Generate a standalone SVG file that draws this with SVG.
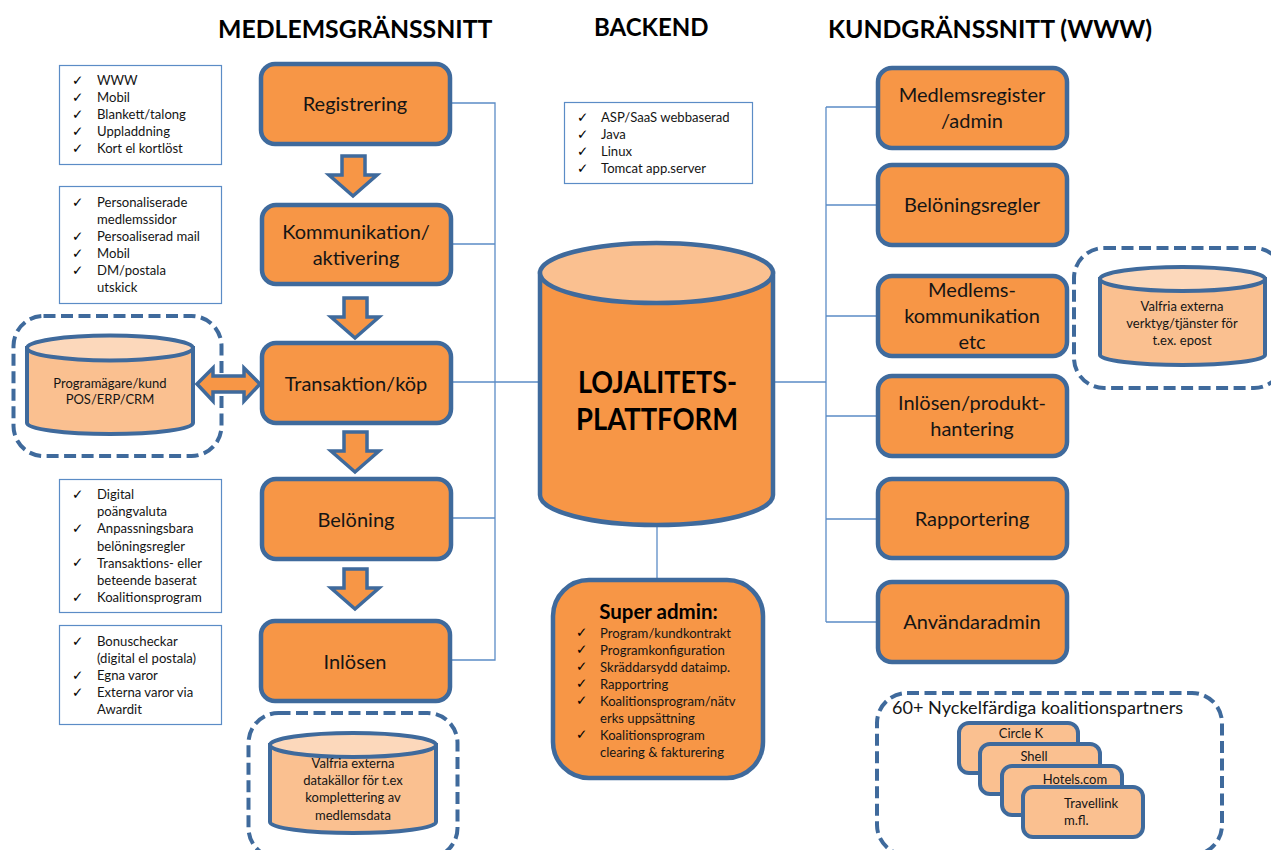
<svg xmlns="http://www.w3.org/2000/svg" width="1271" height="850" viewBox="0 0 1271 850">
<style>
text{font-family:"Lato","Open Sans","Liberation Sans",sans-serif;fill:#151515}
.h{font-size:24.800px;font-weight:700;fill:#000}
.n{fill:#F79646;stroke:#3F6A9C;stroke-width:4.5}
.t{font-size:20px;text-anchor:middle}
.l{fill:#fff;stroke:#5B8CC6;stroke-width:1.2}
.s{font-size:13.100px}
.c{font-family:"DejaVu Sans",sans-serif;font-size:13.500px;fill:#000}
.b{fill:#FAC090;stroke:#3F6A9C;stroke-width:4}
.e{fill:#FCD8BB;stroke:#3F6A9C;stroke-width:4}
.d{fill:#fff;stroke:#3F6A9C;stroke-width:4;stroke-dasharray:12 5.5}
.m{font-size:13px;text-anchor:middle}
.a{fill:#F79646;stroke:#3F6A9C;stroke-width:3.5}
.w{fill:none;stroke:#5B8CC6;stroke-width:1.3}
</style>
<g id="titles">
<text class="h" x="218" y="38">MEDLEMSGRÄNSSNITT</text>
<text class="h" x="594" y="36" style="font-size:24px">BACKEND</text>
<text class="h" x="828" y="38">KUNDGRÄNSSNITT (WWW)</text>
</g>
<g id="connectors" class="w">
<path d="M450 103H495V660H450M451 244H495M451 382H540M451 518H495"/>
<path d="M773 382H826M826 107V622M826 107H878M826 205H878M826 316H878M826 416H878M826 519H878M826 622H878"/>
<path d="M657 525V580"/>
</g>
<g id="list-registrering">
<rect class="l" x="59.500" y="65.500" width="162" height="99"/>
<text class="c" x="72" y="85">✓</text><text class="c" x="72" y="102">✓</text><text class="c" x="72" y="119">✓</text><text class="c" x="72" y="136">✓</text><text class="c" x="72" y="153">✓</text>
<text class="s" x="97" y="85">WWW</text><text class="s" x="97" y="102">Mobil</text><text class="s" x="97" y="119">Blankett/talong</text><text class="s" x="97" y="136">Uppladdning</text><text class="s" x="97" y="153">Kort el kortlöst</text>
</g>
<g id="list-kommunikation">
<rect class="l" x="59.500" y="186.500" width="162" height="117"/>
<text class="c" x="72" y="207">✓</text><text class="c" x="72" y="241">✓</text><text class="c" x="72" y="258">✓</text><text class="c" x="72" y="275">✓</text>
<text class="s" x="97" y="207">Personaliserade</text><text class="s" x="97" y="224">medlemssidor</text><text class="s" x="97" y="241">Persoaliserad mail</text><text class="s" x="97" y="258">Mobil</text><text class="s" x="97" y="275">DM/postala</text><text class="s" x="97" y="292">utskick</text>
</g>
<g id="list-beloning">
<rect class="l" x="59.500" y="479.500" width="162" height="133"/>
<text class="c" x="72" y="499">✓</text><text class="c" x="72" y="533">✓</text><text class="c" x="72" y="567">✓</text><text class="c" x="72" y="602">✓</text>
<text class="s" x="97" y="499">Digital</text><text class="s" x="97" y="516">poängvaluta</text><text class="s" x="97" y="533">Anpassningsbara</text><text class="s" x="97" y="551">belöningsregler</text><text class="s" x="97" y="568">Transaktions- eller</text><text class="s" x="97" y="585">beteende baserat</text><text class="s" x="97" y="602">Koalitionsprogram</text>
</g>
<g id="list-inlosen">
<rect class="l" x="59.500" y="625.500" width="162" height="99"/>
<text class="c" x="72" y="646">✓</text><text class="c" x="72" y="680">✓</text><text class="c" x="72" y="697">✓</text>
<text class="s" x="97" y="646">Bonuscheckar</text><text class="s" x="97" y="663">(digital el postala)</text><text class="s" x="97" y="680">Egna varor</text><text class="s" x="97" y="697">Externa varor via</text><text class="s" x="97" y="714">Awardit</text>
</g>
<g id="registrering"><rect class="n" x="261" y="64" width="189" height="80" rx="14"/><text class="t" x="355" y="111">Registrering</text></g>
<g id="kommunikation"><rect class="n" x="262" y="205" width="189" height="79" rx="14"/><text class="t" x="356" y="239">Kommunikation/</text><text class="t" x="356" y="265">aktivering</text></g>
<g id="transaktion"><rect class="n" x="262" y="343" width="189" height="80" rx="14"/><text class="t" x="356" y="391">Transaktion/köp</text></g>
<g id="beloning"><rect class="n" x="262" y="479" width="189" height="80" rx="14"/><text class="t" x="356" y="527">Belöning</text></g>
<g id="inlosen"><rect class="n" x="261" y="621" width="189" height="80" rx="14"/><text class="t" x="355" y="669">Inlösen</text></g>
<g id="flow-arrows" class="a">
<polygon points="342,156 365,156 365,175 377,175 353,196 329,175 342,175"/>
<polygon points="344,298 367,298 367,317 379,317 355,338 331,317 344,317"/>
<polygon points="344,432 367,432 367,451 379,451 355,472 331,451 344,451"/>
<polygon points="344,569 367,569 367,588 379,588 355,609 331,588 344,588"/>
</g>
<g id="programagare">
<rect class="d" x="13.500" y="316" width="208" height="140" rx="30"/>
<path class="b" d="M27 348V423A83 11 0 0 0 193 423V348Z"/>
<ellipse class="e" cx="110" cy="348" rx="83" ry="12.500"/>
<text class="m" x="110" y="388">Programägare/kund</text><text class="m" x="110" y="404">POS/ERP/CRM</text>
</g>
<polygon id="double-arrow" class="a" points="197,384 213,368 213,376 244,376 244,368 260,384 244,401 244,392 213,392 213,401"/>
<g id="datakallor">
<rect class="d" x="248.500" y="713" width="209" height="145" rx="30"/>
<path class="b" d="M270 745V822A83 11 0 0 0 436 822V745Z"/>
<ellipse class="e" cx="353" cy="745" rx="83" ry="12"/>
<text class="m" x="353" y="768">Valfria externa</text><text class="m" x="353" y="785">datakällor för t.ex</text><text class="m" x="353" y="802">komplettering av</text><text class="m" x="353" y="820">medlemsdata</text>
</g>
<g id="backend-list">
<rect class="l" x="564.500" y="102.500" width="188" height="81"/>
<text class="c" x="577" y="122">✓</text><text class="c" x="577" y="139">✓</text><text class="c" x="577" y="156">✓</text><text class="c" x="577" y="173">✓</text>
<text class="s" x="601" y="122">ASP/SaaS webbaserad</text><text class="s" x="601" y="139">Java</text><text class="s" x="601" y="156">Linux</text><text class="s" x="601" y="173">Tomcat app.server</text>
</g>
<g id="plattform">
<path class="n" d="M540 273V495A116.500 30 0 0 0 773 495V273Z"/>
<ellipse class="b" style="stroke-width:4.500" cx="656.500" cy="273" rx="116.500" ry="30"/>
<text x="578" y="393" font-size="30" font-weight="700" textLength="159" lengthAdjust="spacingAndGlyphs" style="fill:#000">LOJALITETS-</text>
<text x="576" y="430" font-size="30" font-weight="700" textLength="162" lengthAdjust="spacingAndGlyphs" style="fill:#000">PLATTFORM</text>
</g>
<g id="superadmin">
<rect class="n" x="553" y="580" width="210" height="198" rx="36"/>
<text x="658.500" y="619" font-size="20.500" font-weight="700" text-anchor="middle" style="fill:#000">Super admin:</text>
<text class="c" x="576" y="637">✓</text><text class="c" x="576" y="654">✓</text><text class="c" x="576" y="671">✓</text><text class="c" x="576" y="688">✓</text><text class="c" x="576" y="705">✓</text><text class="c" x="576" y="739">✓</text>
<text class="s" x="600" y="638">Program/kundkontrakt</text><text class="s" x="600" y="655">Programkonfiguration</text><text class="s" x="600" y="672">Skräddarsydd dataimp.</text><text class="s" x="600" y="689">Rapportring</text><text class="s" x="600" y="706">Koalitionsprogram/nätv</text><text class="s" x="600" y="723">erks uppsättning</text><text class="s" x="600" y="740">Koalitionsprogram</text><text class="s" x="600" y="757">clearing &amp; fakturering</text>
</g>
<g id="medlemsregister"><rect class="n" x="878" y="68" width="189" height="80" rx="14"/><text class="t" x="972" y="102">Medlemsregister</text><text class="t" x="972" y="128">/admin</text></g>
<g id="beloningsregler"><rect class="n" x="878" y="165" width="189" height="80" rx="14"/><text class="t" x="972" y="212">Belöningsregler</text></g>
<g id="medlemskommunikation"><rect class="n" x="878" y="276" width="189" height="80" rx="14"/><text class="t" x="972" y="297">Medlems-</text><text class="t" x="972" y="323">kommunikation</text><text class="t" x="972" y="349">etc</text></g>
<g id="inlosen-produkt"><rect class="n" x="878" y="376" width="189" height="80" rx="14"/><text class="t" x="972" y="410">Inlösen/produkt-</text><text class="t" x="972" y="436">hantering</text></g>
<g id="rapportering"><rect class="n" x="878" y="479" width="189" height="79" rx="14"/><text class="t" x="972" y="526">Rapportering</text></g>
<g id="anvandaradmin"><rect class="n" x="878" y="582" width="189" height="80" rx="14"/><text class="t" x="972" y="629">Användaradmin</text></g>
<g id="verktyg">
<rect class="d" x="1074" y="248" width="210" height="140" rx="30"/>
<path class="b" d="M1100 279V355A82.500 10 0 0 0 1265 355V279Z"/>
<ellipse class="e" cx="1182.500" cy="279" rx="82.500" ry="12"/>
<text class="m" x="1182" y="311">Valfria externa</text><text class="m" x="1182" y="328">verktyg/tjänster för</text><text class="m" x="1182" y="345">t.ex. epost</text>
</g>
<g id="koalitionspartners">
<rect class="d" x="877" y="693" width="345" height="162" rx="30"/>
<text x="892" y="714" font-size="18.100">60+ Nyckelfärdiga koalitionspartners</text>
<rect class="b" x="959" y="723" width="119" height="50" rx="10"/><text class="m" x="1021" y="738">Circle K</text>
<rect class="b" x="980" y="744" width="120" height="50" rx="10"/><text class="m" x="1034" y="761">Shell</text>
<rect class="b" x="1002" y="766" width="120" height="49" rx="10"/><text class="m" x="1075" y="784">Hotels.com</text>
<rect class="b" x="1023" y="787" width="120" height="50" rx="10"/><text class="s" x="1064" y="808">Travellink</text><text class="s" x="1064" y="825">m.fl.</text>
</g>
</svg>
